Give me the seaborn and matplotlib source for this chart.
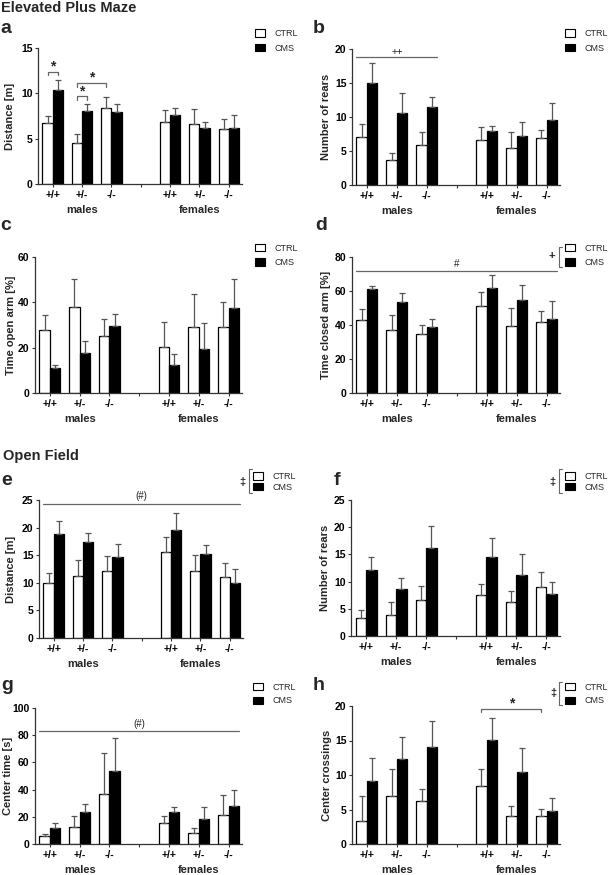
import numpy as np
import pandas as pd
import matplotlib
matplotlib.use("Agg")
import matplotlib.pyplot as plt
import seaborn as sns
from matplotlib.lines import Line2D

sns.set_theme(style="ticks")
plt.rcParams["font.family"] = ["Liberation Sans", "DejaVu Sans"]

# ---------------- data ----------------
categories = ["M+/+", "M+/-", "M-/-", "gap", "F+/+", "F+/-", "F-/-"]
data_cats = ["M+/+", "M+/-", "M-/-", "F+/+", "F+/-", "F-/-"]
tick_labels = ["+/+", "+/-", "-/-", "", "+/+", "+/-", "-/-"]
groups = ["CTRL", "CMS"]
sex_labels = ["males", "females"]

# a: Distance [m] (EPM)
a_ctrl = [6.78, 4.57, 8.37, 6.89, 6.67, 6.12]
a_ctrl_err = [0.74, 0.92, 1.18, 1.29, 1.59, 1.03]
a_cms = [10.39, 8.0, 7.89, 7.59, 6.16, 6.16]
a_cms_err = [1.04, 0.81, 0.92, 0.78, 0.73, 1.40]
# b: Number of rears (EPM)
b_ctrl = [7.09, 3.67, 5.87, 6.55, 5.43, 6.9]
b_ctrl_err = [1.91, 0.98, 1.86, 1.91, 2.39, 1.12]
b_cms = [15.06, 10.56, 11.49, 7.97, 7.19, 9.54]
b_cms_err = [2.84, 2.94, 1.51, 0.78, 2.10, 2.59]
# c: Time open arm [%]
c_ctrl = [27.9, 38.1, 25.0, 20.2, 29.3, 29.3]
c_ctrl_err = [6.3, 12.0, 7.6, 11.2, 14.2, 11.0]
c_cms = [11.1, 17.8, 29.5, 12.5, 19.5, 37.4]
c_cms_err = [1.4, 5.3, 5.4, 4.8, 11.5, 13.1]
# d: Time closed arm [%]
d_ctrl = [43.1, 37.3, 34.5, 51.2, 39.2, 41.8]
d_ctrl_err = [6.5, 8.8, 5.7, 8.4, 11.0, 6.4]
d_cms = [61.4, 53.5, 38.8, 62.0, 54.9, 43.7]
d_cms_err = [1.3, 5.3, 4.7, 7.2, 8.6, 10.4]
# e: Distance [m] (OF)
e_ctrl = [10.0, 11.2, 12.2, 15.5, 12.05, 11.0]
e_ctrl_err = [1.75, 2.9, 2.6, 2.8, 3.0, 2.55]
e_cms = [18.86, 17.4, 14.6, 19.6, 15.3, 9.9]
e_cms_err = [2.34, 1.7, 2.4, 3.05, 1.5, 2.6]
# f: Number of rears (OF)
f_ctrl = [3.35, 3.9, 6.6, 7.54, 6.27, 9.0]
f_ctrl_err = [1.39, 2.3, 2.65, 2.01, 1.93, 2.7]
f_cms = [12.2, 8.7, 16.24, 14.5, 11.3, 7.8]
f_cms_err = [2.3, 1.9, 4.02, 3.5, 3.7, 2.2]
# g: Center time [s]
g_ctrl = [5.6, 12.7, 37.1, 15.6, 8.3, 21.0]
g_ctrl_err = [1.7, 8.0, 29.7, 4.9, 3.7, 14.9]
g_cms = [12.0, 23.2, 53.7, 23.4, 18.3, 27.6]
g_cms_err = [3.6, 6.3, 24.1, 3.7, 9.0, 12.2]
# h: Center crossings
h_ctrl = [3.33, 6.96, 6.28, 8.4, 4.06, 4.1]
h_ctrl_err = [3.67, 3.84, 1.69, 2.4, 1.5, 1.0]
h_cms = [9.18, 12.27, 14.0, 15.07, 10.48, 4.83]
h_cms_err = [3.22, 3.29, 3.87, 3.13, 3.39, 1.77]

# ---------------- layout helpers ----------------
W, H = 611, 875
fig = plt.figure(figsize=(W / 100, H / 100), dpi=100)
AX_COLOR = "#333333"
ANN_COLOR = "#666666"


def fx(x):
    return x / W


def fy(y):
    return 1 - y / H


def draw_panel(box, ctrl, ctrl_err, cms, cms_err, ylim, yticks, ylabel,
               ylabel_x, leg_xy, leg_spacing):
    x0, y0, x1, y1 = box
    ax = fig.add_axes([fx(x0), fy(y1), (x1 - x0) / W, (y1 - y0) / H])
    df = pd.DataFrame({
        "cat": data_cats * 2,
        "group": ["CTRL"] * len(data_cats) + ["CMS"] * len(data_cats),
        "value": list(ctrl) + list(cms),
    })
    sns.barplot(data=df, x="cat", y="value", hue="group", order=categories,
                hue_order=groups, palette={"CTRL": "white", "CMS": "black"},
                edgecolor="black", linewidth=0.9, width=0.7, gap=0,
                errorbar=None, saturation=1, ax=ax)
    errs = {"CTRL": ctrl_err, "CMS": cms_err}
    centers = {}
    for p in ax.patches:
        if p.get_width() <= 0 or p.get_height() <= 0:
            continue
        xc = p.get_x() + p.get_width() / 2
        idx = int(round(xc))
        hue = "CTRL" if xc < idx else "CMS"
        cat = categories[idx]
        centers[(cat, hue)] = (xc, p.get_height(), p.get_width())
        e = errs[hue][data_cats.index(cat)]
        ax.errorbar([xc], [p.get_height()], yerr=[[0], [e]], fmt="none",
                    ecolor="#555555", elinewidth=0.9, capsize=2.2,
                    capthick=0.9, zorder=1)
    ax.set_xlim(-0.5, 6.45)
    ax.set_ylim(*ylim)
    ax.set_yticks(yticks)
    ax.set_yticklabels([str(t) for t in yticks], fontsize=7.5, fontweight="bold")
    ax.set_xticks(range(len(categories)))
    ax.set_xticklabels(tick_labels, fontsize=7.5, fontweight="bold")
    ax.set_xlabel("")
    ax.set_ylabel(ylabel, fontsize=8, fontweight="bold")
    ax.yaxis.set_label_coords(fx(ylabel_x), fy((y0 + y1) / 2),
                              transform=fig.transFigure)
    ax.yaxis.label.set_verticalalignment("center")
    for s in ["top", "right"]:
        ax.spines[s].set_visible(False)
    for s in ["left", "bottom"]:
        ax.spines[s].set_color(AX_COLOR)
        ax.spines[s].set_linewidth(0.9)
    ax.tick_params(axis="both", length=2.5, width=0.8, color=AX_COLOR,
                   pad=1.5, labelcolor="black")
    for name, pos in zip(sex_labels, [1, 5]):
        ax.annotate(name, xy=(pos, 0), xycoords=("data", "axes fraction"),
                    xytext=(0, -18.7), textcoords="offset points",
                    ha="center", va="center", fontsize=8, fontweight="bold")
    old = ax.get_legend()
    handles = old.legend_handles
    labels = [t.get_text() for t in old.get_texts()]
    old.remove()
    leg = ax.legend(handles, labels, loc="center left",
                    bbox_to_anchor=(fx(leg_xy[0]), fy(leg_xy[1])),
                    bbox_transform=fig.transFigure, frameon=False,
                    prop={"size": 6.5, "weight": "normal"},
                    handlelength=1.1, handleheight=0.85, handletextpad=1.1,
                    labelspacing=leg_spacing, borderpad=0, borderaxespad=0)
    for hnd in leg.legend_handles:
        hnd.set_edgecolor("black")
        hnd.set_linewidth(0.8)
    return ax, centers


def bracket(ax, x0, x1, y, leg, text, ty, fs=10):
    ax.plot([x0, x0, x1, x1], [y - leg, y, y, y - leg], color=ANN_COLOR,
            lw=0.9, clip_on=False)
    ax.text((x0 + x1) / 2, ty, text, ha="center", va="center", fontsize=fs,
            fontweight="bold", clip_on=False)


def span_line(ax, x0, x1, y, text, ty, fs=7):
    ax.plot([x0, x1], [y, y], color=ANN_COLOR, lw=0.9, clip_on=False)
    ax.text((x0 + x1) / 2, ty, text, ha="center", va="center", fontsize=fs,
            clip_on=False)


def left_edge(c, key):
    xc, h, w = c[key]
    return xc - w / 2


def right_edge(c, key):
    xc, h, w = c[key]
    return xc + w / 2


def legend_bracket(sym, sx, sy, bx, by0, by1):
    fig.text(fx(sx), fy(sy), sym, ha="center", va="center", fontsize=8,
             fontweight="bold")
    fig.add_artist(Line2D([fx(bx + 3), fx(bx), fx(bx), fx(bx + 3)],
                          [fy(by0), fy(by0), fy(by1), fy(by1)],
                          color=ANN_COLOR, lw=0.8))


# ---------------- titles / letters ----------------
fig.text(fx(1), fy(11.5), "Elevated Plus Maze", fontsize=10.5,
         fontweight="bold", va="baseline")
fig.text(fx(3), fy(460), "Open Field", fontsize=10.5, fontweight="bold",
         va="baseline")
for letter, (lx, ly) in {"a": (0, 33), "b": (313, 33), "c": (0, 230),
                         "d": (315, 230), "e": (1, 485), "f": (334, 485),
                         "g": (1, 690), "h": (313, 690)}.items():
    fig.text(fx(lx), fy(ly), letter, fontsize=14, fontweight="bold",
             va="baseline")

# ---------------- panels ----------------
ax_a, ca = draw_panel((38, 48, 242, 184), a_ctrl, a_ctrl_err, a_cms, a_cms_err,
                      (0, 15), [0, 5, 10, 15], "Distance [m]", 10,
                      (255, 41), 0.65)
bracket(ax_a, ca[("M+/+", "CTRL")][0], ca[("M+/+", "CMS")][0], 12.4, 0.4,
        "*", 13.0)
bracket(ax_a, ca[("M+/-", "CTRL")][0], ca[("M+/-", "CMS")][0], 9.66, 0.4,
        "*", 10.25)
bracket(ax_a, ca[("M+/-", "CTRL")][0], ca[("M-/-", "CTRL")][0], 11.13, 0.4,
        "*", 11.7)

ax_b, cb = draw_panel((352, 49, 560, 185), b_ctrl, b_ctrl_err, b_cms, b_cms_err,
                      (0, 20), [0, 5, 10, 15, 20], "Number of rears", 326,
                      (565, 41), 0.65)
span_line(ax_b, left_edge(cb, ("M+/+", "CTRL")), right_edge(cb, ("M-/-", "CMS")),
          18.8, "++", 19.5)

ax_c, cc = draw_panel((35, 257, 242, 393), c_ctrl, c_ctrl_err, c_cms, c_cms_err,
                      (0, 60), [0, 20, 40, 60], "Time open arm [%]", 11,
                      (255, 255.5), 0.6)

ax_d, cd = draw_panel((352, 257, 560, 393), d_ctrl, d_ctrl_err, d_cms, d_cms_err,
                      (0, 80), [0, 20, 40, 60, 80], "Time closed arm [%]", 326,
                      (565, 255.5), 0.6)
span_line(ax_d, left_edge(cd, ("M+/+", "CTRL")), right_edge(cd, ("F-/-", "CMS")),
          71.6, "#", 75.7)
legend_bracket("+", 552, 256, 558.5, 247, 267)

ax_e, ce = draw_panel((39, 500, 243, 638), e_ctrl, e_ctrl_err, e_cms, e_cms_err,
                      (0, 25), [0, 5, 10, 15, 20, 25], "Distance [m]", 11,
                      (253, 482), 0.2)
span_line(ax_e, left_edge(ce, ("M+/+", "CTRL")), right_edge(ce, ("F-/-", "CMS")),
          24.3, "(#)", 25.7)
legend_bracket("\u2021", 242, 482, 248.5, 469, 493)

ax_f, cf = draw_panel((351, 500, 560, 636), f_ctrl, f_ctrl_err, f_cms, f_cms_err,
                      (0, 25), [0, 5, 10, 15, 20, 25], "Number of rears", 325,
                      (565, 482), 0.2)
legend_bracket("\u2021", 552, 482, 558.5, 469, 493)

ax_g, cg = draw_panel((35, 708, 242, 844), g_ctrl, g_ctrl_err, g_cms, g_cms_err,
                      (0, 100), [0, 20, 40, 60, 80, 100], "Center time [s]", 8,
                      (253, 694), 0.5)
span_line(ax_g, left_edge(cg, ("M+/+", "CTRL")), right_edge(cg, ("F-/-", "CMS")),
          83.4, "(#)", 88.0)

ax_h, chh = draw_panel((352, 706, 560, 844), h_ctrl, h_ctrl_err, h_cms, h_cms_err,
                       (0, 20), [0, 5, 10, 15, 20], "Center crossings", 327,
                       (565, 694), 0.5)
bracket(ax_h, chh[("F+/+", "CTRL")][0], chh[("F-/-", "CTRL")][0], 19.56, 0.45,
        "*", 20.3)
legend_bracket("\u2021", 553, 693, 559, 682, 705)

fig.savefig("out.png", dpi=100)
